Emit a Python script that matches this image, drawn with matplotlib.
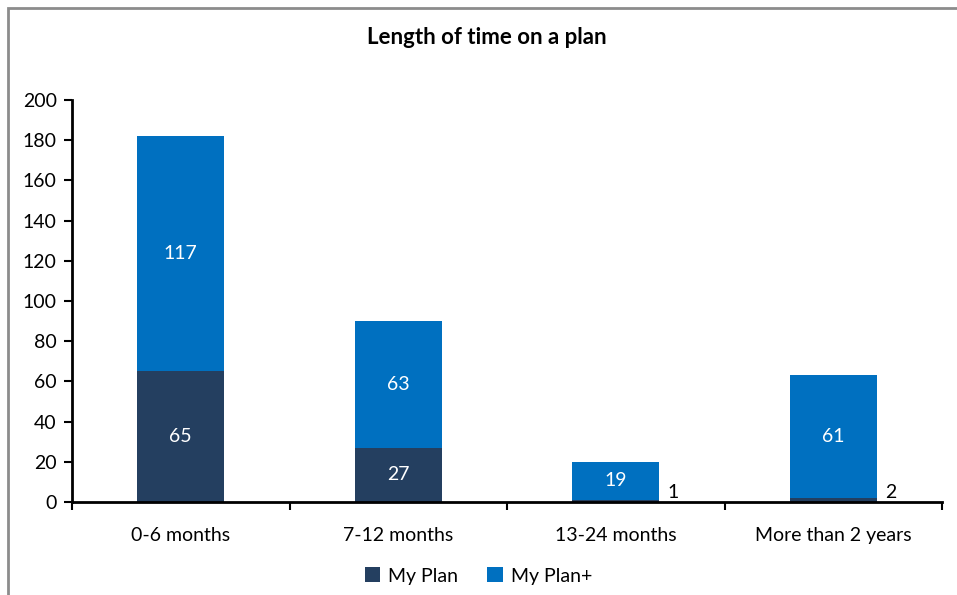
import matplotlib.pyplot as plt
import numpy as np
from matplotlib.patches import Rectangle

categories = ["0-6 months", "7-12 months", "13-24 months", "More than 2 years"]
my_plan = [65, 27, 1, 2]
my_plan_plus = [117, 63, 19, 61]

plt.rcParams['font.family'] = ['Lato', 'DejaVu Sans']

fig = plt.figure(figsize=(9.57, 5.95), dpi=100)
ax = fig.add_axes([72 / 957, 1 - 502 / 595, 870 / 957, 402 / 595])

# outer frame (cut off on right and bottom)
fig.patches.append(Rectangle((8 / 957, -0.1), 1.2, 1 - 8 / 595 + 0.1,
                             transform=fig.transFigure, fill=False,
                             edgecolor='#8c8c8c', linewidth=2))

x = np.arange(len(categories))
dark = '#243f60'
blue = '#0070c0'
fs = 14
b1 = ax.bar(x, my_plan, width=0.4, color=dark, label='My Plan')
b2 = ax.bar(x, my_plan_plus, width=0.4, bottom=my_plan, color=blue, label='My Plan+')

for i in range(len(categories)):
    v1, v2 = my_plan[i], my_plan_plus[i]
    if v1 >= 10:
        ax.text(x[i], v1 / 2, str(v1), ha='center', va='center', color='white', fontsize=fs)
    else:
        ax.annotate(str(v1), (x[i] + 0.2, 0), xytext=(6, 1), textcoords='offset points',
                    ha='left', va='bottom', color='black', fontsize=fs)
    ax.text(x[i], v1 + v2 / 2, str(v2), ha='center', va='center', color='white', fontsize=fs)

ax.set_xlim(-0.5, len(categories) - 0.5)
ax.set_ylim(0, 200)
ax.set_yticks(range(0, 201, 20))
ax.set_xticks(np.arange(-0.5, len(categories), 1.0))
ax.set_xticklabels([])
ax.set_xticks(x, minor=True)
ax.set_xticklabels(categories, minor=True)
ax.tick_params(axis='x', which='minor', length=0, pad=18, labelsize=fs)
ax.tick_params(axis='x', which='major', length=6, width=1.5, direction='out')
ax.tick_params(axis='y', length=6, width=1.5, direction='out', labelsize=fs, pad=5)

for s in ['top', 'right']:
    ax.spines[s].set_visible(False)
for s in ['left', 'bottom']:
    ax.spines[s].set_linewidth(2)

fig.text(487 / 957, 1 - 38 / 595, "Length of time on a plan", fontsize=16,
         fontweight='bold', ha='center', va='center')

fig.legend(handles=[b1, b2], loc='center', bbox_to_anchor=(0.5, 1 - 576 / 595),
           ncol=2, frameon=False, fontsize=fs, handlelength=0.8, handleheight=0.8,
           handletextpad=0.4, columnspacing=1.5)

fig.savefig('out.png', dpi=100)
